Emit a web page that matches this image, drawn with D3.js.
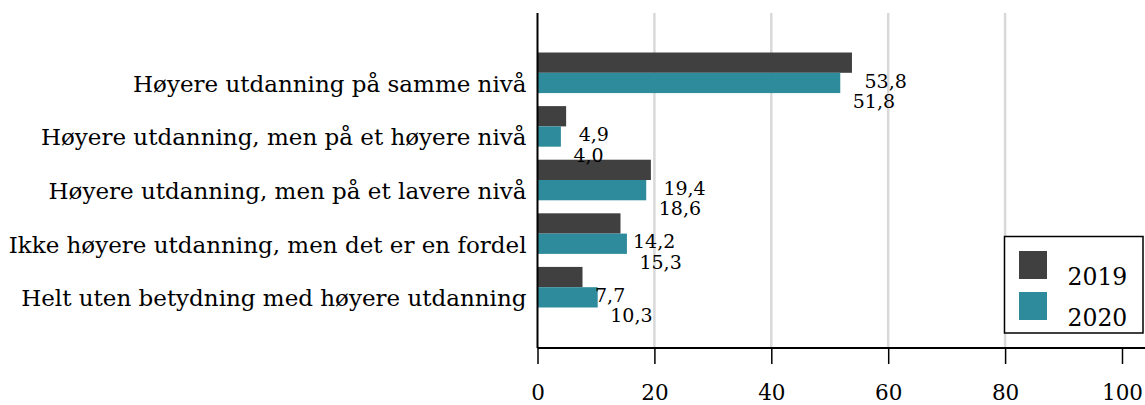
<!DOCTYPE html>
<html>
<head>
<meta charset="utf-8">
<script src="https://cdn.jsdelivr.net/npm/d3@7"></script>
<style>
    body { margin: 0; background: #fff; }
    text { font-family: "DejaVu Serif", serif; fill: #000; }
</style>
</head>
<body>
<script>
// Chart data
const categories = [
    "Høyere utdanning på samme nivå",
    "Høyere utdanning, men på et høyere nivå",
    "Høyere utdanning, men på et lavere nivå",
    "Ikke høyere utdanning, men det er en fordel",
    "Helt uten betydning med høyere utdanning"
];
const years = ["2019", "2020"];
const values2019 = [53.8, 4.9, 19.4, 14.2, 7.7];
const values2020 = [51.8, 4.0, 18.6, 15.3, 10.3];
const xTicks = [0, 20, 40, 60, 80, 100];

const width = 1145;
const height = 405;

// Plot area
const plotLeft = 537.5, plotRight = 1122;
const plotTop = 13, plotBottom = 348;

const svg = d3.select("body")
    .append("svg")
    .attr("width", width)
    .attr("height", height);

// Scales
const x = d3.scaleLinear()
    .domain([0, 100])
    .range([plotLeft, plotRight]);

const y = d3.scaleBand()
    .domain(categories)
    .range([46, 314])
    .paddingInner(0.243)
    .paddingOuter(0.1215);

const ySub = d3.scaleBand()
    .domain(years)
    .range([0, y.bandwidth()]);

const colors = d3.scaleOrdinal()
    .domain(years)
    .range(["#404040", "#2e8b9c"]);

// Flatten to one entry per bar
const bars = [];
categories.forEach((c, i) => {
    bars.push({ category: c, key: "2019", value: values2019[i] });
    bars.push({ category: c, key: "2020", value: values2020[i] });
});

// Gridlines
svg.append("g")
    .selectAll("line")
    .data(xTicks.filter(t => t > 0 && t < 100))
    .enter().append("line")
    .attr("x1", d => x(d))
    .attr("x2", d => x(d))
    .attr("y1", plotTop)
    .attr("y2", plotBottom)
    .attr("stroke", "#d9d9d9")
    .attr("stroke-width", 2.5);

// Bars
svg.append("g")
    .selectAll("rect")
    .data(bars)
    .enter().append("rect")
    .attr("x", x(0))
    .attr("y", d => y(d.category) + ySub(d.key))
    .attr("width", d => x(d.value) - x(0))
    .attr("height", ySub.bandwidth())
    .attr("fill", d => colors(d.key));

// Value labels (offset right and below each bar), drawn above all bars
svg.append("g")
    .selectAll("text")
    .data(bars)
    .enter().append("text")
    .attr("x", d => x(d.value) + 12.5)
    .attr("y", d => y(d.category) + ySub(d.key) + ySub.bandwidth() / 2 + 25)
    .attr("font-size", 19)
    .text(d => d.value.toFixed(1).replace(".", ","));

// X axis
const xAxis = svg.append("g")
    .attr("transform", `translate(0,${plotBottom})`)
    .call(d3.axisBottom(x).tickValues(xTicks).tickSize(16).tickSizeOuter(0).tickFormat(d3.format("d")));
xAxis.select(".domain").remove();
xAxis.selectAll(".tick line").attr("stroke", "#000").attr("stroke-width", 1.5);
xAxis.selectAll("text")
    .attr("y", 52)
    .attr("dy", null)
    .attr("font-size", 21.5)
    .attr("font-family", "DejaVu Serif, serif");

svg.append("line")
    .attr("x1", x(0))
    .attr("x2", width)
    .attr("y1", plotBottom)
    .attr("y2", plotBottom)
    .attr("stroke", "#000")
    .attr("stroke-width", 2);

// Y axis
const yAxis = svg.append("g")
    .attr("transform", `translate(${x(0)},0)`)
    .call(d3.axisLeft(y).tickSize(0).tickPadding(11));
yAxis.select(".domain").remove();
yAxis.selectAll("text")
    .attr("dy", null)
    .attr("y", 19)
    .attr("font-size", 23)
    .attr("font-family", "DejaVu Serif, serif");

svg.append("line")
    .attr("x1", x(0))
    .attr("x2", x(0))
    .attr("y1", plotTop)
    .attr("y2", plotBottom)
    .attr("stroke", "#000")
    .attr("stroke-width", 2);

// Legend
const legend = svg.append("g")
    .attr("transform", "translate(1004.5,236.5)");

legend.append("rect")
    .attr("width", 138.5)
    .attr("height", 96.5)
    .attr("fill", "#fff")
    .attr("stroke", "#000")
    .attr("stroke-width", 1.5);

const legendItem = legend.selectAll(".item")
    .data(years)
    .enter().append("g")
    .attr("class", "item")
    .attr("transform", (d, i) => `translate(0,${i * 41})`);

legendItem.append("rect")
    .attr("x", 14.5)
    .attr("y", 14.5)
    .attr("width", 28)
    .attr("height", 28)
    .attr("fill", d => colors(d));

legendItem.append("text")
    .attr("x", 63)
    .attr("y", 48.5)
    .attr("font-size", 23.5)
    .text(d => d);
</script>
</body>
</html>
